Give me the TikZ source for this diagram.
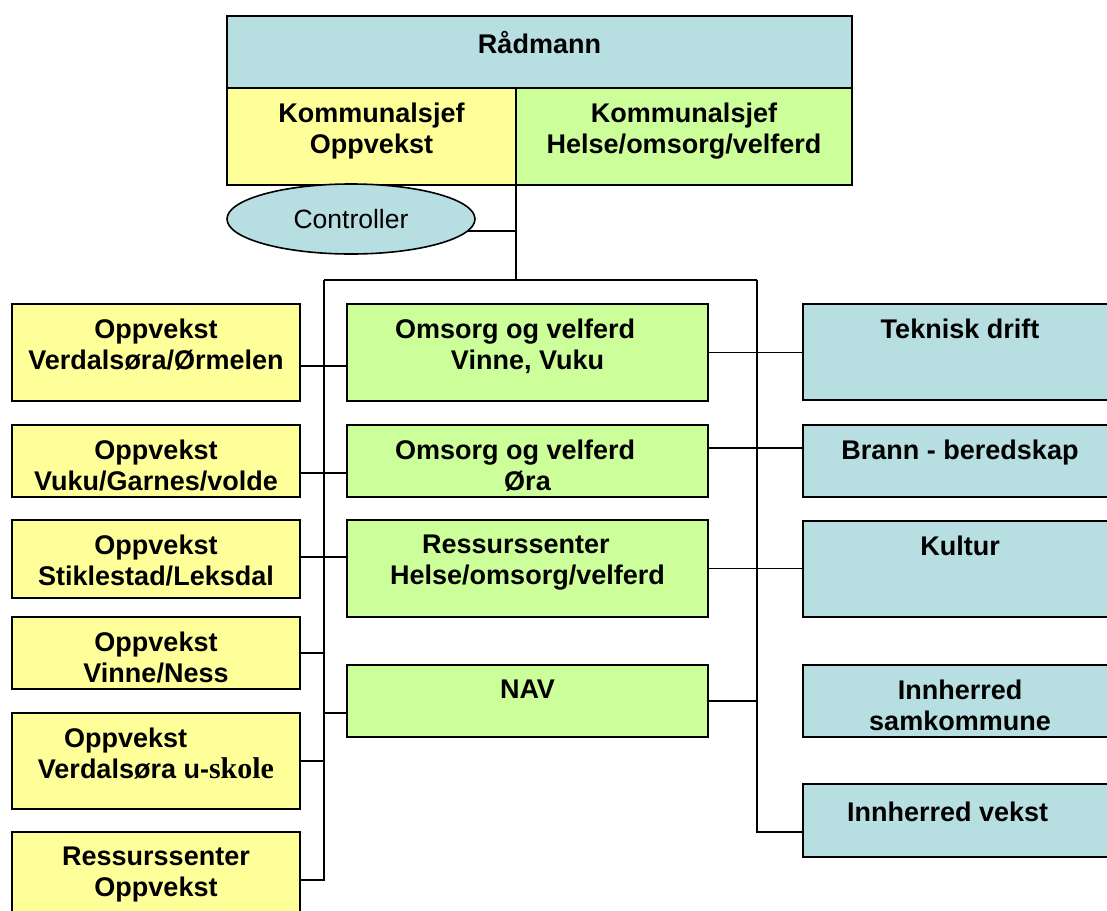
\documentclass[tikz,border=0pt]{standalone}
\usepackage{fontspec}
\setmainfont{Liberation Sans}
\newfontfamily\skolefont{Liberation Serif}
\usetikzlibrary{shapes.geometric}
\definecolor{raadblue}{RGB}{183,222,225}
\definecolor{oppyellow}{RGB}{255,255,153}
\definecolor{omsgreen}{RGB}{204,255,153}

\begin{document}
\begin{tikzpicture}[x=1pt,y=-1pt,line width=1.5pt,
block/.style={draw,rectangle,inner sep=0pt,outer sep=0pt,line width=1.6pt},
oppblock/.style={block,fill=oppyellow,minimum width=288pt},
omsblock/.style={block,fill=omsgreen,minimum width=361pt},
stabblock/.style={block,fill=raadblue,minimum width=314pt},
ctrlblock/.style={ellipse,draw,fill=raadblue,line width=1.6pt,inner sep=0pt,outer sep=0pt,font=\fontsize{26.5}{31}\selectfont},
txt/.style={anchor=north,inner sep=0pt,yshift=-14.5pt,align=center,font=\fontsize{27}{31}\selectfont\bfseries}]

\useasboundingbox[fill=white] (0,0) rectangle (1107,910);

\node[stabblock,minimum width=625pt,minimum height=72pt,label={[txt,yshift=-0.5pt]north:{Rådmann}}] (rad) at (539.5,52) {};
\node[block,fill=oppyellow,minimum width=289pt,minimum height=97pt,label={[txt]north:{Kommunalsjef\\Oppvekst}}] (kom1) at (371.5,136.5) {};
\node[block,fill=omsgreen,minimum width=336pt,minimum height=97pt,label={[txt]north:{Kommunalsjef\\Helse/omsorg/velferd}}] (kom2) at (684,136.5) {};
\node[ctrlblock,minimum width=248pt,minimum height=70pt] (ctrl) at (351,219) {Controller};

\node[oppblock,minimum height=97pt,label={[txt]north:{Oppvekst\\Verdalsøra/Ørmelen}}] (opp1) at (156,352.5) {};
\node[oppblock,minimum height=72pt,label={[txt]north:{Oppvekst\\Vuku/Garnes/volde}}] (opp2) at (156,461) {};
\node[oppblock,minimum height=78pt,label={[txt]north:{Oppvekst\\Stiklestad/Leksdal}}] (opp3) at (156,559) {};
\node[oppblock,minimum height=72pt,label={[txt]north:{Oppvekst\\Vinne/Ness}}] (opp4) at (156,653) {};
\node[oppblock,minimum height=96pt,label={[txt]north:{\makebox[184pt][l]{Oppvekst}\\Verdalsøra u-{\skolefont\fontsize{30}{31}\selectfont skole}}}] (opp5) at (156,761) {};
\node[oppblock,minimum height=96pt,label={[txt]north:{Ressurssenter\\Oppvekst}}] (opp6) at (156,880) {};

\node[omsblock,minimum height=97pt,label={[txt]north:{\makebox[265pt][l]{Omsorg og velferd}\\Vinne, Vuku}}] (oms1) at (527.5,352.5) {};
\node[omsblock,minimum height=72pt,label={[txt]north:{\makebox[265pt][l]{Omsorg og velferd}\\Øra}}] (oms2) at (527.5,461) {};
\node[omsblock,minimum height=97pt,label={[txt]north:{\makebox[211pt][l]{Ressurssenter}\\Helse/omsorg/velferd}}] (oms3) at (527.5,568.5) {};
\node[omsblock,minimum height=72pt,label={[txt]north:{NAV}}] (nav) at (527.5,701) {};

\node[stabblock,minimum height=96pt,label={[txt]north:{Teknisk drift}}] (tek) at (960,352) {};
\node[stabblock,minimum height=72pt,label={[txt]north:{Brann - beredskap}}] (brann) at (960,461) {};
\node[stabblock,minimum height=96pt,label={[txt]north:{Kultur}}] (kultur) at (960,569) {};
\node[stabblock,minimum height=72pt,label={[txt]north:{Innherred\\samkommune}}] (samk) at (960,701) {};
\node[stabblock,minimum height=73pt,label={[txt,yshift=-3pt]north:{\makebox[226pt][l]{Innherred vekst}}}] (vekst) at (960,820.5) {};

\coordinate (busL) at (324,280);
\coordinate (busR) at (757,280);

\draw (kom1.south east) -- (kom1.south east |- busL);
\draw (ctrl.-6) -- (ctrl.-6 -| kom1.south east);
\draw (busL) -- (busR);
\draw (busL) |- (opp6.east);
\draw (busR) |- ([yshift=-11.5pt]vekst.west);

\draw ([yshift=-13.5pt]opp1.east) -- ([yshift=-13.5pt]opp1.east -| oms1.west);
\draw ([yshift=-12pt]opp2.east) -- ([yshift=-12pt]opp2.east -| oms2.west);
\draw ([yshift=2pt]opp3.east) -- ([yshift=2pt]opp3.east -| oms3.west);
\draw (opp4.east) -- (opp4.east -| busL);
\draw (opp5.east) -- (opp5.east -| busL);
\draw ([yshift=-12pt]nav.west) -- ([yshift=-12pt]nav.west -| busL);

\draw (oms1.east) -- (oms1.east -| tek.west);
\draw ([yshift=13pt]oms2.east) -- ([yshift=13pt]oms2.east -| brann.west);
\draw (oms3.east) -- (oms3.east -| kultur.west);
\draw (nav.east) -- (nav.east -| busR);

\end{tikzpicture}
\end{document}
